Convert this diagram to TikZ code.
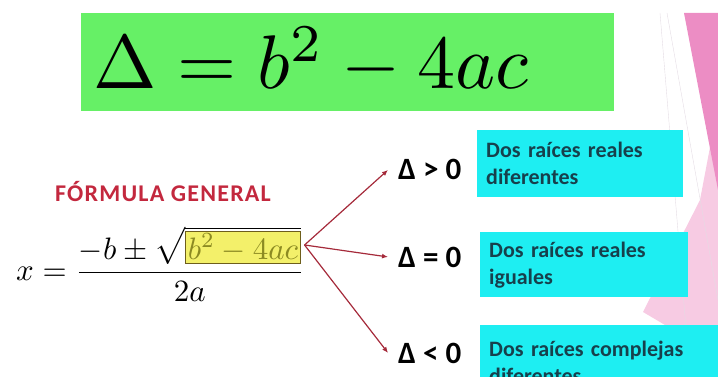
\documentclass[tikz,border=0pt]{standalone}
\usepackage{amsmath}
\usepackage{graphicx}
\usepackage[no-math]{fontspec}
\newfontfamily\calib{Carlito}
\usetikzlibrary{arrows.meta,calc}
\definecolor{Lime}{HTML}{66F066}
\definecolor{Aqua}{HTML}{1EEEF2}
\definecolor{Deep}{HTML}{17404C}
\definecolor{Crimson}{HTML}{C3283E}
\definecolor{Branch}{HTML}{A52A3A}
\definecolor{RadFill}{HTML}{F3F06A}
\definecolor{RadLine}{HTML}{6E5E1C}
\definecolor{RadInk}{HTML}{8C8A22}
\definecolor{Rose}{HTML}{EC8DC4}
\definecolor{Blush}{HTML}{F7CBE3}
\definecolor{Seam}{HTML}{E4DCE4}
\newcommand{\radbox}[1]{{\setlength{\fboxsep}{0.5pt}\setlength{\fboxrule}{0.3pt}\fcolorbox{RadLine}{RadFill}{$\color{RadInk}#1$}}}
\tikzset{
  >=Latex,
  cond/.style={anchor=base west,inner xsep=10pt,inner ysep=5pt,font={\calib\bfseries\fontsize{31}{31}\selectfont}},
  verdict/.style={fill=Aqua,text=Deep,anchor=north west,align=left,inner xsep=9pt,inner ysep=0pt,
    font={\calib\bfseries\fontsize{22}{27}\selectfont}},
  heading/.style={anchor=base west,inner sep=0pt,text=Crimson,
    font={\calib\bfseries\fontsize{24}{24}\selectfont\addfontfeatures{LetterSpace=5}}},
  branch/.style={-{Latex[length=6pt,width=5pt]},line width=1.2pt,draw=Branch}
}
\begin{document}
\begin{tikzpicture}[x=1pt,y=-1pt]
    \useasboundingbox (0,0) rectangle (718,377);
    \clip (0,0) rectangle (718,377);
    % slide decoration
    \fill[Blush] (718,105) -- (700,200) -- (643,312) -- (665,325) -- (718,325) -- cycle;
    \fill[Rose] (684,13) -- (718,13) -- (718,190) -- cycle;
    \draw[Seam] (660,13) -- (690,377); \draw[Seam] (667,13) -- (718,300);
    % formulas
    \node[fill=Lime,minimum width=533,minimum height=98,anchor=north west,inner sep=0] (band) at (81,13) {};
    \node[anchor=base west,inner sep=0] (disc) at (93,89) {\scalebox{7.6}{$\Delta \mathrel{\mathbf{=}} b^2-4ac$}};
    \node[heading] (fg) at (55,201) {FÓRMULA GENERAL};
    \node[anchor=base west,inner sep=0] (quad) at (16,280)
      {\scalebox{3.1}{$x=\dfrac{-b\pm\sqrt{\radbox{b^2-4ac}}}{2a}$}};
    \coordinate (rad) at (quad.east |- 0,245);
    % cases
    \node[cond] (dpos) at (388,180) {Δ > 0};
    \node[cond] (dzero) at (388,267) {Δ = 0};
    \node[cond] (dneg) at (388,363) {Δ < 0};
    \node[verdict,text width=188,minimum height=67] (rpos) at (477,130) {Dos raíces reales\\diferentes};
    \node[verdict,text width=190,minimum height=65] (rzero) at (480,232) {Dos raíces reales\\iguales};
    \node[verdict,text width=262,minimum height=75] (rneg) at (480,325) {Dos raíces complejas\\diferentes};
    \draw[branch] (rad) -- (dpos.west);
    \draw[branch] (rad) -- (dzero.west);
    \draw[branch] (rad) -- (dneg.west);
\end{tikzpicture}
\end{document}
